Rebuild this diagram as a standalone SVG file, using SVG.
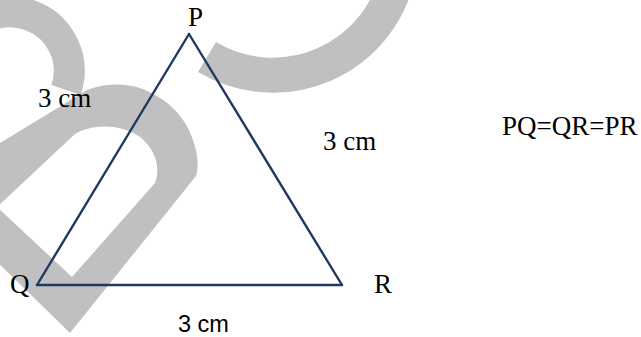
<svg xmlns="http://www.w3.org/2000/svg" width="641" height="337" viewBox="0 0 641 337">
  <style>
    .wm { fill: none; stroke: #c0c0c0; stroke-linejoin: miter; }
    .wmf { fill: #c0c0c0; fill-rule: evenodd; stroke: none; }
    .edge { stroke: #203864; stroke-width: 2.4; fill: none; stroke-linecap: round; }
    .lbl { font-family: "Liberation Serif", "Times New Roman", serif; font-size: 27px; fill: #000; }
    .sans { font-family: "Liberation Sans", Arial, sans-serif; font-size: 23.5px; fill: #000; }
  </style>
  <rect width="641" height="337" fill="#fff"/>
  <g id="watermark">
    <path class="wm" style="stroke-width:31" d="M -45,50 A 59 59 0 0 1 66,90"/>
    <path class="wmf" d="M -10,149 L 87,90 C 105,83 125,83 140,88 C 165,97 185,115 193,140 C 198,155 199,165 196,176 L 70,333 L -10,255 Z M -3,207 L 75,134 C 92,124 120,123 140,137 C 155,149 161,166 155,183 L 72,277 Z"/>
    <path class="wm" style="stroke-width:35" d="M 207,57 A 128 128 0 0 0 398,-26"/>
  </g>
  <g id="connectors">
    <line id="edge-PQ" class="edge" x1="189" y1="34" x2="37" y2="285"/>
    <line id="edge-PR" class="edge" x1="189" y1="34" x2="342" y2="285"/>
    <line id="edge-QR" class="edge" x1="37" y1="285" x2="342" y2="285"/>
  </g>
  <g id="node-P"><text class="lbl" x="188" y="26">P</text></g>
  <g id="node-Q"><text class="lbl" x="10" y="293">Q</text></g>
  <g id="node-R"><text class="lbl" x="374" y="293">R</text></g>
  <g id="labels">
    <text class="lbl" x="38" y="107">3 cm</text>
    <text class="lbl" x="323" y="150">3 cm</text>
    <text class="sans" x="178" y="332">3 cm</text>
    <text class="lbl" x="502" y="135">PQ=QR=PR</text>
  </g>
</svg>
